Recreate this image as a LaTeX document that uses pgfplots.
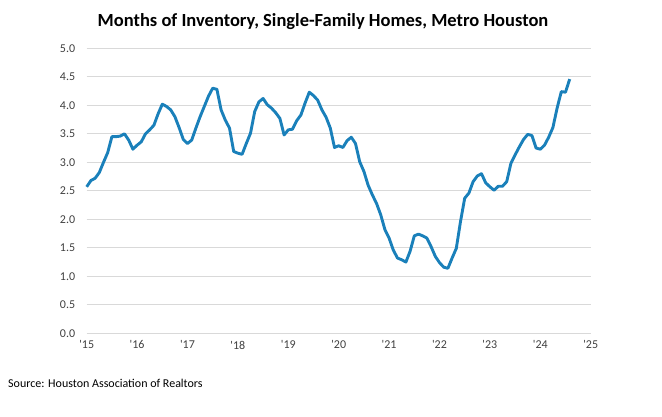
\documentclass[border=0pt]{standalone}
\usepackage{fontspec}
\setmainfont{Carlito}
\usepackage{pgfplots}
\pgfplotsset{compat=1.18}
\definecolor{lineblue}{RGB}{26,128,186}
\definecolor{gridgray}{RGB}{217,217,217}
\definecolor{ticktext}{RGB}{64,64,64}
\begin{document}
\begin{tikzpicture}
\useasboundingbox (0,0) rectangle (662pt,416pt);
\begin{axis}[
  at={(86.7pt,82.7pt)}, anchor=south west,
  scale only axis, width=504pt, height=285pt,
  xmin=0, xmax=120, ymin=0, ymax=5,
  xtick={0,12,...,120},
  xticklabels={\textquotesingle15,\textquotesingle16,\textquotesingle17,\textquotesingle18,\textquotesingle19,\textquotesingle20,\textquotesingle21,\textquotesingle22,\textquotesingle23,\textquotesingle24,\textquotesingle25},
  ytick={0,0.5,...,5},
  yticklabel style={/pgf/number format/fixed,/pgf/number format/fixed zerofill,/pgf/number format/precision=1, xshift=-8pt},
  /pgf/number format/assume math mode=true,
  tick label style={font=\fontsize{12}{14}\selectfont, text=ticktext},
  axis line style={draw=none},
  major tick length=0pt,
  ymajorgrids, grid style={gridgray, line width=0.9pt},
  xticklabel style={yshift=-4pt},
  clip=false,
]
\addplot[lineblue, line width=2.9pt, line join=round] coordinates {
(0,2.57)(1,2.68)(2,2.72)(3,2.82)(4,3.00)(5,3.17)(6,3.45)(7,3.45)(8,3.46)(9,3.50)(10,3.39)(11,3.23)
(12,3.30)(13,3.36)(14,3.50)(15,3.57)(16,3.65)(17,3.85)(18,4.02)(19,3.98)(20,3.92)(21,3.80)(22,3.61)(23,3.40)
(24,3.33)(25,3.39)(26,3.60)(27,3.80)(28,3.98)(29,4.16)(30,4.30)(31,4.28)(32,3.92)(33,3.74)(34,3.60)(35,3.19)
(36,3.16)(37,3.14)(38,3.33)(39,3.51)(40,3.89)(41,4.06)(42,4.12)(43,4.01)(44,3.95)(45,3.87)(46,3.77)(47,3.48)
(48,3.57)(49,3.58)(50,3.73)(51,3.83)(52,4.04)(53,4.23)(54,4.17)(55,4.09)(56,3.92)(57,3.79)(58,3.60)(59,3.26)
(60,3.29)(61,3.26)(62,3.38)(63,3.44)(64,3.33)(65,3.01)(66,2.84)(67,2.60)(68,2.43)(69,2.28)(70,2.08)(71,1.82)
(72,1.67)(73,1.46)(74,1.32)(75,1.29)(76,1.25)(77,1.44)(78,1.71)(79,1.74)(80,1.71)(81,1.67)(82,1.52)(83,1.35)
(84,1.24)(85,1.16)(86,1.14)(87,1.32)(88,1.49)(89,1.96)(90,2.37)(91,2.46)(92,2.66)(93,2.76)(94,2.80)(95,2.64)
(96,2.57)(97,2.51)(98,2.58)(99,2.58)(100,2.66)(101,2.98)(102,3.13)(103,3.27)(104,3.40)(105,3.49)(106,3.47)(107,3.25)
(108,3.23)(109,3.30)(110,3.44)(111,3.61)(112,3.95)(113,4.24)(114,4.23)(115,4.46)
};
\end{axis}
\node[font=\bfseries\fontsize{18.5}{21}\selectfont, anchor=center] at (323pt,394pt) {Months of Inventory, Single-Family Homes, Metro Houston};
\node[font=\fontsize{12}{14}\selectfont, anchor=west, inner sep=0pt] at (8pt,33pt) {Source: Houston Association of Realtors};
\end{tikzpicture}
\end{document}
